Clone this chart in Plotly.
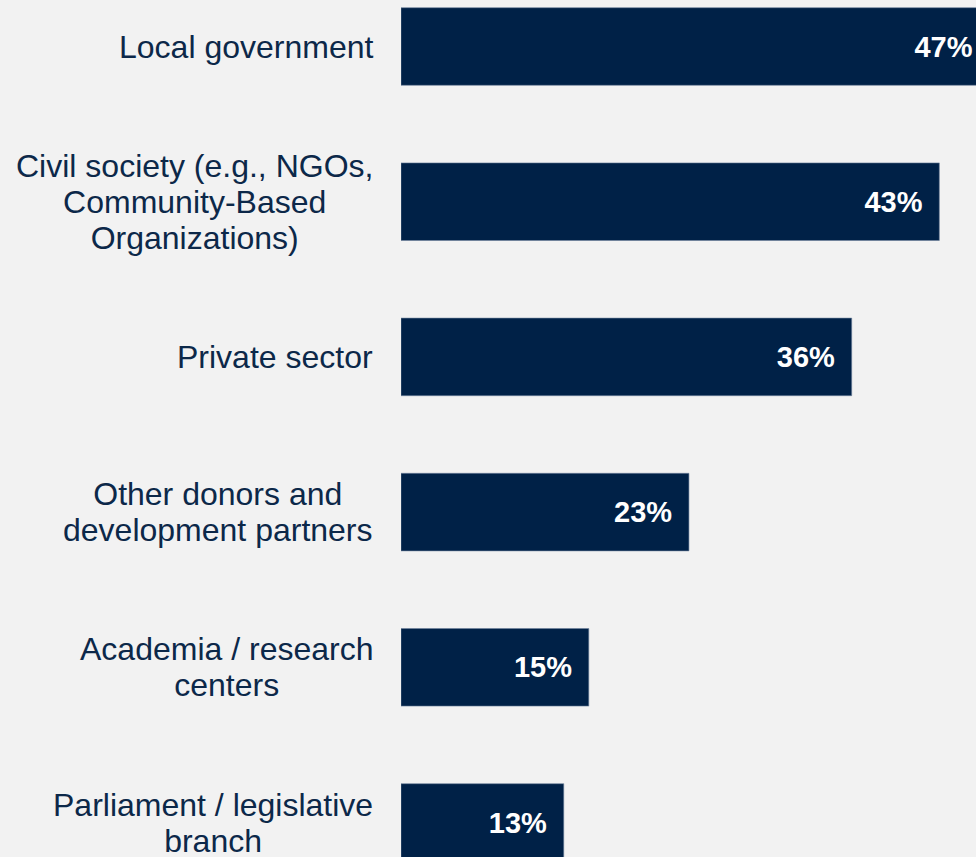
import plotly.graph_objects as go

# Share of respondents by stakeholder group
categories = [
    "Local government",
    "Civil society (e.g., NGOs,<br>Community-Based<br>Organizations)",
    "Private sector",
    "Other donors and<br>development partners",
    "Academia / research<br>centers",
    "Parliament / legislative<br>branch",
]
values = [47, 43, 36, 23, 15, 13]

NAVY = "#002147"
BG = "#f2f2f2"
FONT = "Liberation Sans, Arial, sans-serif"
LABEL_PX = 32
LINE_STEP_PX = 36

# value labels: trailing non-breaking + thin space add padding from the bar end
value_text = [f"{v}%\u00a0\u2009" for v in values]

fig = go.Figure(
    go.Bar(
        x=values,
        y=categories,
        orientation="h",
        width=0.5,
        marker=dict(color=NAVY, line=dict(color="#6d819c", width=0.6)),
        text=value_text,
        textposition="inside",
        insidetextanchor="end",
        textfont=dict(family=FONT, size=29, color="white", weight="bold"),
        cliponaxis=True,
        hoverinfo="skip",
    )
)

# category labels, centred line by line, right-aligned against the bars
for cat in categories:
    lines = cat.split("<br>")
    txt = "<br>".join(
        f'<span style="font-size:{LABEL_PX}px">{ln}</span>' for ln in lines
    )
    fig.add_annotation(
        x=0,
        xref="paper",
        y=cat,
        yref="y",
        text=txt,
        showarrow=False,
        xanchor="right",
        yanchor="middle",
        align="center",
        xshift=-26,
        font=dict(family=FONT, size=LINE_STEP_PX / 1.3, color="#0c2849"),
    )

fig.update_layout(
    width=976,
    height=857,
    margin=dict(l=401, r=0, t=0, b=0),
    paper_bgcolor=BG,
    plot_bgcolor=BG,
    showlegend=False,
    xaxis=dict(range=[0, 45.93], visible=False, fixedrange=True),
    yaxis=dict(
        categoryorder="array",
        categoryarray=categories,
        range=[5.2223, -0.2996],
        showticklabels=False,
        showgrid=False,
        zeroline=False,
        showline=False,
        ticks="",
        fixedrange=True,
    ),
)

fig.write_html("out.html", config={"displayModeBar": False})
